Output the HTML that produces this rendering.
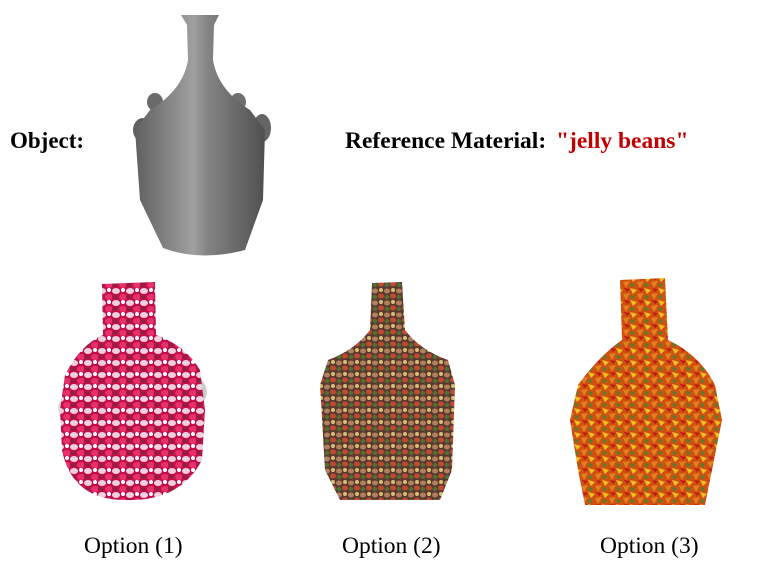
<!DOCTYPE html>
<html><head><meta charset="utf-8"><style>
html,body{margin:0;padding:0;background:#fff;}
body{width:772px;height:572px;position:relative;overflow:hidden;font-family:"Liberation Serif",serif;}
.t{position:absolute;white-space:nowrap;}
</style></head><body>
<svg width="772" height="572" style="position:absolute;left:0;top:0">
<defs>
<linearGradient id="gray" x1="0" x2="1" y1="0" y2="0">
<stop offset="0" stop-color="#606060"/><stop offset="0.45" stop-color="#a0a0a0"/><stop offset="0.55" stop-color="#858585"/><stop offset="1" stop-color="#505050"/>
</linearGradient>
<pattern id="p1" width="14" height="12" patternUnits="userSpaceOnUse">
<rect width="14" height="12" fill="#c0104a"/>
<ellipse cx="4" cy="3" rx="4" ry="3" fill="#f0d0e0"/>
<ellipse cx="11" cy="9" rx="4" ry="3" fill="#e8306a"/>
<ellipse cx="11" cy="2" rx="2" ry="2" fill="#ffffff"/>
<ellipse cx="3" cy="9" rx="2.5" ry="2" fill="#902040"/>
</pattern>
<pattern id="p2" width="12" height="12" patternUnits="userSpaceOnUse">
<rect width="12" height="12" fill="#5a3a30"/>
<ellipse cx="3" cy="3" rx="3" ry="2.5" fill="#b08060"/>
<ellipse cx="9" cy="8" rx="3" ry="2.5" fill="#c04a30"/>
<ellipse cx="9" cy="2" rx="2" ry="2" fill="#d8c070"/>
<ellipse cx="3" cy="9" rx="2.5" ry="2" fill="#507030"/>
</pattern>
<pattern id="p3" width="14" height="12" patternUnits="userSpaceOnUse">
<rect width="14" height="12" fill="#d05010"/>
<polygon points="0,0 7,2 3,6" fill="#f0c020"/>
<polygon points="7,6 14,5 10,12" fill="#e08020"/>
<polygon points="8,0 14,1 11,4" fill="#c01818"/>
<polygon points="0,7 5,8 2,12" fill="#508030"/>
</pattern>
</defs>
<g>
<ellipse cx="155" cy="102" rx="8" ry="9" fill="#6a6a6a"/>
<ellipse cx="238" cy="102" rx="8" ry="9" fill="#707070"/>
<ellipse cx="143" cy="130" rx="10" ry="12" fill="#606060"/>
<ellipse cx="262" cy="128" rx="9" ry="14" fill="#656565"/>
<path d="M181,15 L219,15 L214,25 L213,60 Q218,90 250,110 L265,130 L263,200 L245,250 Q200,262 163,248 L140,200 L135,130 L150,110 Q183,90 188,60 L187,25 Z" fill="url(#gray)"/>
</g>
<g>
<ellipse cx="80" cy="408" rx="22" ry="18" fill="#ddd"/>
<ellipse cx="185" cy="392" rx="22" ry="18" fill="#ccc"/>
<path d="M102,284 L155,282 L156,335 Q185,345 200,370 L205,410 L202,460 Q180,502 125,500 Q72,500 62,450 L60,410 L65,375 Q80,345 103,335 Z" fill="url(#p1)"/>
</g>
<g>
<path d="M372,283 L402,282 L405,330 Q420,350 448,360 L455,385 L452,470 L440,500 L340,500 L325,470 L320,385 L328,360 Q355,350 370,330 Z" fill="url(#p2)"/>
</g>
<g>
<path d="M620,280 L665,278 L668,340 Q700,355 715,385 L722,420 L712,470 L705,505 L585,505 L578,470 L570,420 L578,385 Q600,355 622,340 Z" fill="url(#p3)"/>
</g>
</svg>
<div class="t" style="left:10px;top:128px;font-size:23px;font-weight:bold;">Object:</div>
<div class="t" style="left:345px;top:128px;font-size:23.5px;font-weight:bold;">Reference Material:</div>
<div class="t" style="left:556px;top:128px;font-size:23.5px;font-weight:bold;color:#c00000;">"jelly beans"</div>
<div class="t" style="left:84px;top:533px;font-size:23.5px;">Option (1)</div>
<div class="t" style="left:342px;top:533px;font-size:23.5px;">Option (2)</div>
<div class="t" style="left:600px;top:533px;font-size:23.5px;">Option (3)</div>
</body></html>
